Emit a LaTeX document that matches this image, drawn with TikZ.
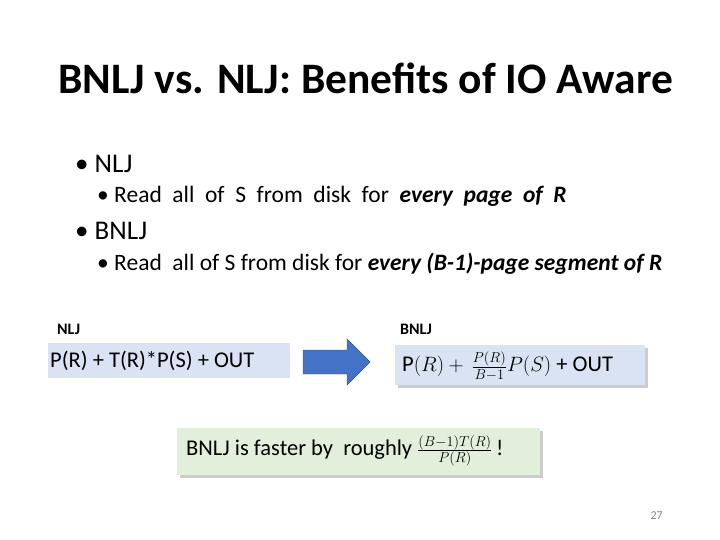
\documentclass[tikz,border=0pt]{standalone}
\usepackage{fontspec}
\setmainfont{Carlito}
\usepackage{xcolor}
\definecolor{boxblue}{HTML}{DAE3F3}
\definecolor{boxgreen}{HTML}{E2EFDA}
\definecolor{arrowblue}{HTML}{4472C4}
\begin{document}
\begin{tikzpicture}[x=1pt,y=-1pt,
  bul/.style={anchor=base west,font=\fontsize{27}{32}\selectfont,inner sep=0pt},
  subbul/.style={anchor=base west,font=\fontsize{23.5}{28}\selectfont,inner sep=0pt},
  lbl/.style={anchor=base west,font=\fontsize{16}{19}\selectfont\bfseries,inner sep=0pt},
  formula box/.style={anchor=west,font=\fontsize{22.5}{27}\selectfont,inner sep=0pt}]
\useasboundingbox[fill=white] (0,0) rectangle (720,540);

\node[anchor=base west,inner sep=0pt,font=\fontsize{43.5}{50}\selectfont\bfseries] (title) at (58,94) {BNLJ vs. NLJ: Benefits of IO Aware};

\node[bul] (b1) at (75,173) {\textbullet\ NLJ};
\node[subbul] (s1) at (97,203) {\textbullet\ Read\ \ all\ \ of\ \ S\ \ from\ \ disk\ \ for\ \ \textit{\textbf{every\ \ page\ \ of\ \ R}}};
\node[bul] (b2) at (75,240) {\textbullet\ BNLJ};
\node[subbul] (s2) at (97,270) {\textbullet\ Read\ \ all of S from disk for \textit{\textbf{every (B-1)-page segment of R}}};

\node[lbl] (nljlbl) at (57,334) {NLJ};
\node[lbl] (bnljlbl) at (400,334) {BNLJ};

% cost boxes
\fill[boxblue] (48,343) rectangle (290,378);
\node[formula box] (nlj) at (50,361) {P(R) + T(R)*P(S) + OUT};

\fill[gray!40] (398,348) rectangle (648,388);
\fill[boxblue] (395,345) rectangle (645,385);
\node[formula box] (bnlj) at (402,366) {$\mathrm{P}(R)+\,\frac{P(R)}{B-1}P(S)$ + OUT};

\filldraw[fill=arrowblue,draw=arrowblue!70!black] (303,350) -- (347,350) -- (347,339) -- (370,362)
  -- (347,385) -- (347,374) -- (303,374) -- cycle;

\fill[gray!40] (180,431) rectangle (543,478);
\fill[boxgreen] (177,428) rectangle (540,475);
\node[formula box,font=\fontsize{22.5}{27}\selectfont] (fast) at (186,451) {BNLJ is faster by\ \ roughly $\frac{(B-1)T(R)}{P(R)}$\,!};

\node[anchor=base east,inner sep=0pt,font=\fontsize{12}{14}\selectfont,text=gray] (pg) at (663,519) {27};
\end{tikzpicture}
\end{document}
